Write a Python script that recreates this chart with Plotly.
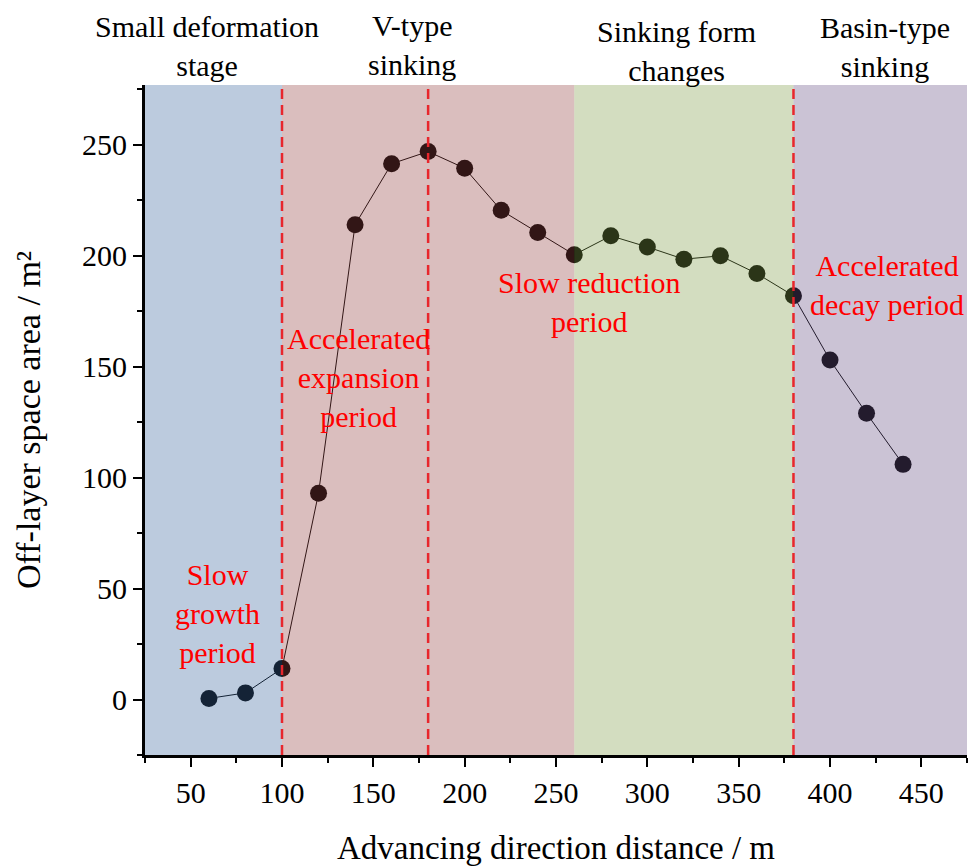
import plotly.graph_objects as go

# Advancing distance (m) and off-layer space area (m^2)
distance = [60, 80, 100, 120, 140, 160, 180, 200, 220, 240, 260,
            280, 300, 320, 340, 360, 380, 400, 420, 440]
area = [0.5, 3, 14, 93, 214, 241.5, 247, 239.5, 220.5, 210.5, 200.5,
        209, 204, 198.5, 200, 192, 182, 153, 129, 106]

# Stage bands: start, end, tint
stage_bounds = [(25, 100), (100, 260), (260, 380), (380, 475)]
stage_fills = ["rgba(59,103,159,0.34)", "rgba(147,65,65,0.34)",
               "rgba(126,156,71,0.34)", "rgba(103,79,132,0.34)"]
stage_titles = ["Small deformation<br>stage", "V-type<br>sinking",
                "Sinking form<br>changes", "Basin-type<br>sinking"]
stage_title_x = [59, 171, 316, 430]
stage_title_y = [1.058, 1.060, 1.050, 1.056]

# Period boundaries (dashed)
period_lines = [100, 180, 380]

# Period labels
period_text = ["Slow<br>growth<br>period", "Accelerated<br>expansion<br>period",
               "Slow reduction<br>period", "Accelerated<br>decay period"]
period_x = [64.7, 141.7, 268.3, 431.4]
period_y = [38.8, 145.3, 179.4, 186.8]

FONT = "Liberation Serif"

fig = go.Figure()
fig.add_trace(go.Scatter(
    x=distance, y=area, mode="lines+markers",
    line=dict(color="black", width=1),
    marker=dict(color="black", size=17),
    showlegend=False, hoverinfo="skip",
))

shapes = []
for (x0, x1), c in zip(stage_bounds, stage_fills):
    shapes.append(dict(type="rect", xref="x", yref="paper", x0=x0, x1=x1,
                       y0=0, y1=1, fillcolor=c, line=dict(width=0),
                       layer="above"))
for xv in period_lines:
    shapes.append(dict(type="line", xref="x", yref="paper", x0=xv, x1=xv,
                       y0=0, y1=1, layer="above",
                       line=dict(color="#e8262c", width=2.5, dash="10px,6px")))

annotations = []
for t, xv, yv in zip(stage_titles, stage_title_x, stage_title_y):
    annotations.append(dict(text=t, x=xv, y=yv, xref="x", yref="paper",
                            showarrow=False, xanchor="center", yanchor="middle",
                            font=dict(family=FONT, size=30, color="black")))
for t, xv, yv in zip(period_text, period_x, period_y):
    annotations.append(dict(text=t, x=xv, y=yv, xref="x", yref="y",
                            showarrow=False, xanchor="center", yanchor="middle",
                            font=dict(family=FONT, size=30, color="#ff0000")))

fig.update_layout(
    width=978, height=866,
    margin=dict(l=145, r=11, t=85, b=111),
    paper_bgcolor="white", plot_bgcolor="white",
    font=dict(family=FONT, size=30, color="black"),
    shapes=shapes, annotations=annotations,
)
fig.update_xaxes(
    range=[25, 475], tickvals=[50, 100, 150, 200, 250, 300, 350, 400, 450],
    ticks="outside", ticklen=9, tickwidth=2, tickcolor="black",
    minor=dict(ticks="outside", ticklen=5, tickwidth=2, tickcolor="black",
               tickvals=[25, 75, 125, 175, 225, 275, 325, 375, 425, 475]),
    showline=True, linecolor="black", linewidth=3, mirror=False,
    showgrid=False, zeroline=False, automargin=False,
    tickfont=dict(family=FONT, size=30),
    title=dict(text="Advancing direction distance / m", standoff=32,
               font=dict(family=FONT, size=33)),
)
fig.update_yaxes(
    range=[-25, 277], tickvals=[0, 50, 100, 150, 200, 250],
    ticks="outside", ticklen=9, tickwidth=2, tickcolor="black",
    minor=dict(ticks="outside", ticklen=5, tickwidth=2, tickcolor="black",
               tickvals=[-25, 25, 75, 125, 175, 225, 275]),
    showline=True, linecolor="black", linewidth=3, mirror=False,
    showgrid=False, zeroline=False, automargin=False,
    tickfont=dict(family=FONT, size=30),
    title=dict(text="Off-layer space area / m²", standoff=32,
               font=dict(family=FONT, size=34)),
)

fig.write_html("out.html")
